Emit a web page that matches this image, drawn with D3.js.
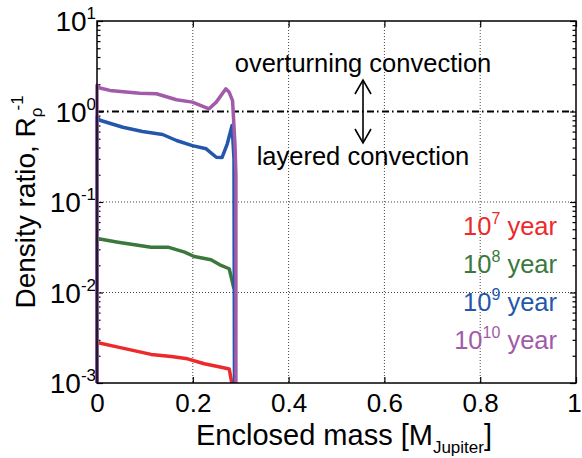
<!DOCTYPE html>
<html><head><meta charset="utf-8">
<script src="https://cdn.jsdelivr.net/npm/d3@7"></script>
<style>
html,body{margin:0;padding:0;background:#fff;}
text{font-family:"Liberation Sans",Arial,Helvetica,sans-serif;}
</style></head>
<body><svg id="c" width="582" height="458"></svg>
<script>
// ---- data ----
const xTicks = [0, 0.2, 0.4, 0.6, 0.8, 1];
const yTickExps = [-3, -2, -1, 0, 1];
const seriesNames = ["7", "8", "9", "10"];
const seriesColors = ["#ec2a2c", "#3b783c", "#2457ab", "#a15ba9"];

const massRed   = [0, 0, 0.044, 0.113, 0.155, 0.189, 0.224, 0.252, 0.276, 0.283];
const ratioRed  = [1e-3, 0.0028, 0.00249, 0.00207, 0.00196, 0.00185, 0.00163, 0.00152, 0.00143, 0.0009];

const massGreen  = [0, 0, 0.044, 0.113, 0.148, 0.183, 0.203, 0.238, 0.259, 0.276, 0.286];
const ratioGreen = [1e-3, 0.0395, 0.036, 0.0317, 0.0317, 0.0279, 0.025, 0.023, 0.0199, 0.0183, 0.011];

const massBlue  = [0, 0, 0.006, 0.054, 0.095, 0.137, 0.166, 0.199, 0.228, 0.249, 0.261, 0.272, 0.282, 0.286, 0.287];
const ratioBlue = [1e-3, 0.88, 0.80, 0.67, 0.60, 0.557, 0.478, 0.42, 0.387, 0.312, 0.31, 0.44, 0.70, 0.3, 1e-3];

const massPurple  = [0, 0, 0.006, 0.027, 0.089, 0.124, 0.166, 0.199, 0.234, 0.249, 0.269, 0.276, 0.283, 0.288, 0.290, 0.290];
const ratioPurple = [1e-3, 1.95, 1.82, 1.71, 1.59, 1.57, 1.35, 1.27, 1.07, 1.27, 1.78, 1.63, 1.32, 0.44, 0.2, 1e-3];

const boundary = 1;

// ---- layout ----
const L = 97, R = 576, T = 21, B = 383;
const svg = d3.select("#c");
const x = d3.scaleLinear().domain([0, 1]).range([L, R]);
const y = d3.scaleLog().domain([1e-3, 10]).range([B, T]);

// grid
const g = svg.append("g");
g.selectAll(".gx").data(xTicks.filter(d => d > 0 && d < 1)).enter().append("line")
  .attr("x1", d => x(d)).attr("x2", d => x(d)).attr("y1", T).attr("y2", B)
  .attr("stroke", "#444").attr("stroke-width", 1).attr("stroke-dasharray", "1,2");
g.selectAll(".gy").data(yTickExps.filter(e => e > -3 && e < 0)).enter().append("line")
  .attr("x1", L).attr("x2", R).attr("y1", e => y(Math.pow(10, e))).attr("y2", e => y(Math.pow(10, e)))
  .attr("stroke", "#444").attr("stroke-width", 1).attr("stroke-dasharray", "1,2");

// boundary line dash-dot
svg.append("line").attr("x1", L).attr("x2", R).attr("y1", y(boundary)).attr("y2", y(boundary))
  .attr("stroke", "#000").attr("stroke-width", 1.8).attr("stroke-dasharray", "7,3,1.5,3.5");

// axes ticks (inward)
const minor = y.ticks().filter(v => Math.abs(Math.log10(v) - Math.round(Math.log10(v))) > 1e-6);
const major = yTickExps.map(e => Math.pow(10, e));
function yAxisTicks(axisFn, xpos, size, vals) {
  svg.append("g").attr("transform", `translate(${xpos},0)`)
    .call(axisFn(y).tickValues(vals).tickSizeInner(size).tickSizeOuter(0).tickFormat(""))
    .call(s => s.select(".domain").remove())
    .call(s => s.selectAll("line").attr("stroke", "#000").attr("stroke-width", 1.2));
}
yAxisTicks(d3.axisLeft, L, -6, major);
yAxisTicks(d3.axisLeft, L, -3.5, minor);
yAxisTicks(d3.axisRight, R, -6, major);
yAxisTicks(d3.axisRight, R, -3.5, minor);

svg.append("g").attr("transform", `translate(0,${B})`)
  .call(d3.axisBottom(x).tickValues(xTicks).tickSizeInner(-6).tickSizeOuter(0).tickPadding(5).tickFormat(d => String(d)))
  .call(s => s.select(".domain").remove())
  .call(s => s.selectAll("line").attr("stroke", "#000").attr("stroke-width", 1.2))
  .call(s => s.selectAll("text").attr("font-size", 26).attr("fill", "#000")
      .attr("font-family", '"Liberation Sans",Arial,sans-serif').attr("dy", "0.92em")
      .attr("dx", d => d === 1 ? -2 : 0));
svg.append("g").attr("transform", `translate(0,${T})`)
  .call(d3.axisTop(x).tickValues(xTicks).tickSizeInner(-6).tickSizeOuter(0).tickFormat(""))
  .call(s => s.select(".domain").remove())
  .call(s => s.selectAll("line").attr("stroke", "#000").attr("stroke-width", 1.2));

// y tick labels
yTickExps.forEach(e => {
  const t = svg.append("text").attr("x", L - 1).attr("y", y(Math.pow(10, e)) + 10)
    .attr("text-anchor", "end").attr("font-size", 28).attr("fill", "#000");
  t.append("tspan").text("10");
  t.append("tspan").attr("font-size", 17).attr("dy", -12).text(e < 0 ? "-" + Math.abs(e) : String(e));
});

// series
const lineGen = d3.line().x(d => x(d[0])).y(d => y(d[1]));
svg.append("clipPath").attr("id", "clip").append("rect")
  .attr("x", L - 3).attr("y", T).attr("width", R - L + 3).attr("height", B - T);
const series = [
  [massRed, ratioRed], [massGreen, ratioGreen], [massBlue, ratioBlue], [massPurple, ratioPurple]
];
const sg = svg.append("g").attr("clip-path", "url(#clip)");
series.forEach((s, i) => {
  const pts = s[0].map((m, k) => [m, s[1][k]]);
  sg.append("path").attr("d", lineGen(pts)).attr("fill", "none")
    .attr("stroke", seriesColors[i]).attr("stroke-width", 3.5)
    .attr("stroke-linejoin", "round").attr("stroke-linecap", "butt");
});

// frame
svg.append("rect").attr("x", L).attr("y", T).attr("width", R - L).attr("height", B - T)
  .attr("fill", "none").attr("stroke", "#000").attr("stroke-width", 1.5);

// annotations
svg.append("text").attr("x", 363).attr("y", 72).attr("text-anchor", "middle")
  .attr("font-size", 25.5).attr("fill", "#000").text("overturning convection");
svg.append("text").attr("x", 363).attr("y", 165).attr("text-anchor", "middle")
  .attr("font-size", 25.5).attr("fill", "#000").text("layered convection");
const ax = 363, ay1 = 80, ay2 = 143;
svg.append("line").attr("x1", ax).attr("x2", ax).attr("y1", ay1).attr("y2", ay2)
  .attr("stroke", "#000").attr("stroke-width", 1.6);
svg.append("path").attr("d", `M${ax-8},${ay1+14}L${ax},${ay1}L${ax+8},${ay1+14}`)
  .attr("fill", "none").attr("stroke", "#000").attr("stroke-width", 1.6);
svg.append("path").attr("d", `M${ax-8},${ay2-14}L${ax},${ay2}L${ax+8},${ay2-14}`)
  .attr("fill", "none").attr("stroke", "#000").attr("stroke-width", 1.6);

// legend
const legY = [235, 273, 311, 349];
seriesNames.forEach((n, i) => {
  const t = svg.append("text").attr("x", 557).attr("y", legY[i]).attr("text-anchor", "end")
    .attr("font-size", 25.5).attr("fill", seriesColors[i]);
  t.append("tspan").text("10");
  t.append("tspan").attr("font-size", 16).attr("dy", -11).text(n);
  t.append("tspan").attr("dy", 11).text(" year");
});

// axis titles
svg.append("text").attr("x", 344).attr("y", 445).attr("text-anchor", "middle").attr("font-size", 29).attr("fill", "#000")
  .call(t => {
    t.append("tspan").text("Enclosed mass [M");
    t.append("tspan").attr("font-size", 17).attr("dy", 8).text("Jupiter");
    t.append("tspan").attr("dy", -8).text("]");
  });
svg.append("text").attr("transform", "translate(35,202) rotate(-90)").attr("text-anchor", "middle")
  .attr("font-size", 28).attr("fill", "#000")
  .call(t => {
    t.append("tspan").text("Density ratio, R");
    t.append("tspan").attr("font-size", 17).attr("dy", 7).text("ρ");
    t.append("tspan").attr("font-size", 17).attr("dy", -19).attr("dx", -3).text("-1");
  });
</script></body></html>
